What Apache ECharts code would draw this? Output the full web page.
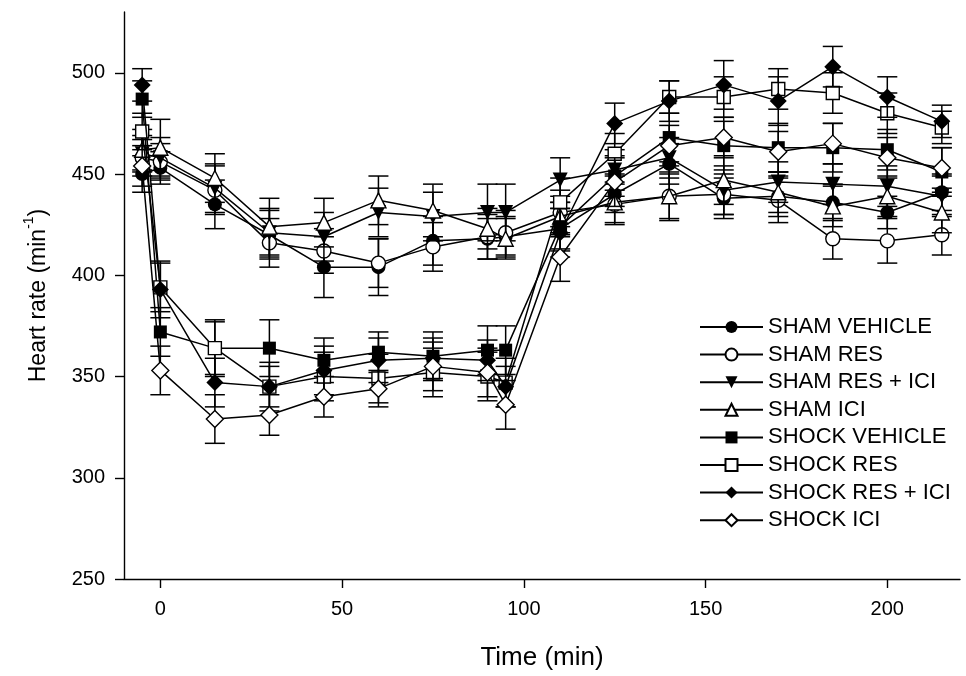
<!DOCTYPE html>
<html>
<head>
<meta charset="utf-8">
<title>Heart rate</title>
<script src="https://cdn.jsdelivr.net/npm/echarts@6.0.0/dist/echarts.min.js"></script>
<style>
  html, body {margin: 0; padding: 0; background: #fff;}
  #chart {width: 966px; height: 676px;}
</style>
</head>
<body>
<div id="chart"></div>
<script>
// time points (min)
let time = [-5, 0, 15, 30, 45, 60, 75, 90, 95, 110, 125, 140, 155, 170, 185, 200, 215];
let xTicks = [0, 50, 100, 150, 200];
let yTicks = [250, 300, 350, 400, 450, 500];

// means
let shamVehicle = [450, 453, 435, 420, 404, 404, 417, 418, 419, 423, 440, 455, 438, 439, 436, 431, 441];
let shamRes = [458, 456, 442, 416, 412, 406, 414, 419, 421, 431, 435, 439, 440, 437, 418, 417, 420];
let shamResIci = [460, 458, 443, 421, 419, 431, 429, 431, 431, 447, 452, 458, 442, 446, 445, 444, 439];
let shamIci = [462, 463, 448, 424, 426, 437, 432, 423, 418, 429, 436, 439, 447, 441, 434, 439, 431];
let shockVehicle = [487, 372, 364, 364, 358, 362, 360, 363, 363, 424, 449, 468, 464, 463, 463, 462, 451];
let shockRes = [471, 394, 364, 345, 350, 349, 352, 350, 347, 436, 460, 488, 488, 492, 490, 480, 473];
let shockResIci = [494, 393, 347, 345, 353, 358, 359, 358, 345, 421, 475, 486, 494, 486, 503, 488, 476];
let shockIci = [454, 353, 329, 331, 340, 344, 355, 352, 336, 409, 446, 464, 468, 461, 465, 458, 453];

// error (SEM)
let errShamVehicle = [9, 8, 12, 12, 15, 14, 12, 10, 10, 10, 9, 10, 10, 10, 9, 8, 9];
let errShamRes = [9, 9, 12, 12, 11, 12, 12, 11, 11, 11, 10, 12, 10, 11, 10, 11, 10];
let errShamResIci = [9, 10, 12, 12, 12, 12, 12, 14, 14, 11, 10, 10, 12, 10, 10, 10, 10];
let errShamIci = [10, 14, 12, 14, 12, 12, 13, 10, 10, 10, 10, 11, 12, 10, 10, 10, 10];
let errShockVehicle = [9, 12, 13, 14, 11, 10, 12, 12, 12, 12, 10, 12, 12, 12, 12, 10, 12];
let errShockRes = [9, 12, 14, 12, 12, 12, 12, 12, 12, 12, 10, 8, 10, 10, 10, 10, 8];
let errShockResIci = [8, 14, 12, 10, 12, 11, 10, 10, 10, 12, 10, 10, 12, 12, 10, 10, 8];
let errShockIci = [10, 12, 12, 10, 10, 9, 12, 12, 12, 12, 12, 10, 10, 10, 10, 10, 10];

let groups = [
  {name: 'SHAM VEHICLE', data: shamVehicle, err: errShamVehicle, symbol: 'circle', size: 14, fill: '#000'},
  {name: 'SHAM RES', data: shamRes, err: errShamRes, symbol: 'circle', size: 14, fill: '#fff'},
  {name: 'SHAM RES + ICI', data: shamResIci, err: errShamResIci, symbol: 'triangle', size: 15, fill: '#000', rotate: 180},
  {name: 'SHAM ICI', data: shamIci, err: errShamIci, symbol: 'triangle', size: 15, fill: '#fff'},
  {name: 'SHOCK VEHICLE', data: shockVehicle, err: errShockVehicle, symbol: 'rect', size: 13, fill: '#000'},
  {name: 'SHOCK RES', data: shockRes, err: errShockRes, symbol: 'rect', size: 13, fill: '#fff'},
  {name: 'SHOCK RES + ICI', data: shockResIci, err: errShockResIci, symbol: 'diamond', size: 17, fill: '#000'},
  {name: 'SHOCK ICI', data: shockIci, err: errShockIci, symbol: 'diamond', size: 17, fill: '#fff'}
];

let font = 'Liberation Sans, Arial, sans-serif';

// error bars with caps
let errRender = function (params, api) {
  let x = api.value(0);
  let top = api.coord([x, api.value(2)]);
  let bot = api.coord([x, api.value(1)]);
  let w = 10;
  let st = {stroke: '#000', lineWidth: 1.5};
  return {
    type: 'group',
    children: [
      {type: 'line', shape: {x1: top[0], y1: top[1], x2: bot[0], y2: bot[1]}, style: st},
      {type: 'line', shape: {x1: top[0] - w, y1: top[1], x2: top[0] + w, y2: top[1]}, style: st},
      {type: 'line', shape: {x1: bot[0] - w, y1: bot[1], x2: bot[0] + w, y2: bot[1]}, style: st}
    ]
  };
};

let series = [];
groups.forEach(function (g, i) {
  series.push({
    type: 'custom', name: g.name + ' err', renderItem: errRender,
    data: time.map(function (t, k) {
      return [t, g.data[k] - g.err[k], g.data[k] + g.err[k]];
    }),
    encode: {x: 0, y: [1, 2]}, z: 2 * i + 1, silent: true
  });
  series.push({
    type: 'line', name: g.name,
    data: time.map(function (t, k) {
      return [t, g.data[k]];
    }),
    symbol: g.symbol, symbolSize: g.size, symbolRotate: g.rotate || 0,
    showAllSymbol: true,
    lineStyle: {color: '#000', width: 1.5},
    itemStyle: {color: g.fill, borderColor: '#000', borderWidth: g.fill === '#fff' ? 1.4 : 0},
    emphasis: {disabled: true},
    z: 2 * i + 2
  });
});

let chart = echarts.init(document.getElementById('chart'));
chart.setOption({
  animation: false,
  backgroundColor: '#fff',
  grid: {left: 124, right: 6, top: 12, bottom: 96},
  legend: {
    orient: 'vertical', left: 694, top: 311,
    itemWidth: 63, itemHeight: 15, itemGap: 5.6,
    data: groups.map(function (g) { return g.name; }),
    textStyle: {fontSize: 22, color: '#000', fontFamily: font}
  },
  xAxis: {
    type: 'value', min: -10, max: 220,
    name: 'Time (min)', nameLocation: 'middle', nameGap: 66,
    nameTextStyle: {fontSize: 26, color: '#000', fontFamily: font},
    axisLine: {show: true, onZero: false, lineStyle: {color: '#000', width: 1.4}},
    axisTick: {show: true, length: 9, customValues: xTicks, lineStyle: {color: '#000', width: 1.4}},
    axisLabel: {customValues: xTicks, margin: 20, fontSize: 20, color: '#000', fontFamily: font},
    splitLine: {show: false}
  },
  yAxis: {
    type: 'value', min: 250, max: 530,
    name: '{a|Heart rate (min}{s|-1}{a|)}', nameLocation: 'middle', nameGap: 74,
    nameTextStyle: {
      color: '#000', fontFamily: font,
      rich: {
        a: {fontSize: 23, fontFamily: font, color: '#000', verticalAlign: 'bottom', lineHeight: 28},
        s: {fontSize: 14, fontFamily: font, color: '#000', verticalAlign: 'top', lineHeight: 28}
      }
    },
    axisLine: {show: true, onZero: false, lineStyle: {color: '#000', width: 1.4}},
    axisTick: {show: true, length: 9, customValues: yTicks, lineStyle: {color: '#000', width: 1.4}},
    axisLabel: {customValues: yTicks, margin: 19, fontSize: 20, color: '#000', fontFamily: font},
    splitLine: {show: false}
  },
  series: series
});
</script>
</body>
</html>
